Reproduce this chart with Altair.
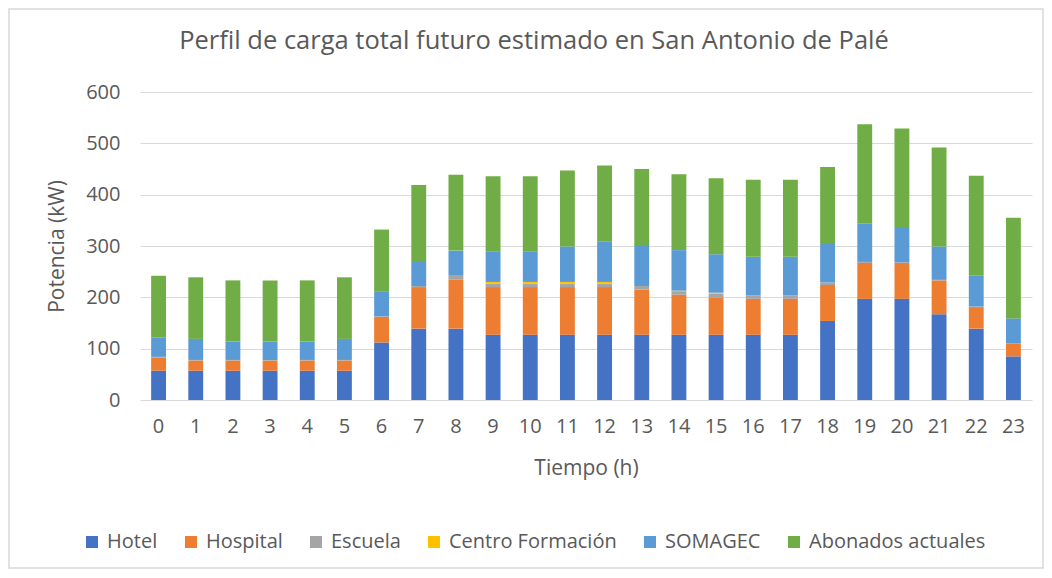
import altair as alt
import pandas as pd

hours = list(range(24))
series = ["Hotel", "Hospital", "Escuela", "Centro Formación", "SOMAGEC", "Abonados actuales"]
colors = ["#4472C4", "#ED7D31", "#A5A5A5", "#FFC000", "#5B9BD5", "#70AD47"]

hotel = [57, 57, 57, 57, 57, 57, 112, 139, 139, 127, 127, 127, 127, 127, 127, 127, 127, 127, 154, 197, 197, 167, 139, 85]
hospital = [26, 20, 20, 20, 20, 20, 50, 81, 96, 93, 93, 93, 93, 88, 78, 73, 70, 70, 70, 70, 70, 66, 42, 25]
escuela = [1, 1, 1, 1, 1, 1, 1, 2, 7, 7, 7, 7, 7, 7, 7, 7, 7, 7, 5, 2, 1, 1, 1, 0]
centro = [0, 0, 0, 0, 0, 0, 0, 0, 0, 3, 3, 3, 3, 0, 1, 2, 0, 0, 0, 0, 0, 0, 0, 0]
somagec = [38, 41, 36, 36, 36, 41, 49, 49, 49, 59, 59, 69, 79, 80, 79, 75, 75, 75, 75, 75, 69, 65, 60, 49]
abonados = [120, 120, 119, 119, 119, 120, 120, 148, 148, 147, 147, 148, 148, 148, 148, 148, 150, 150, 150, 193, 192, 193, 195, 196]

values = [hotel, hospital, escuela, centro, somagec, abonados]
rows = []
for si, (name, vals) in enumerate(zip(series, values)):
    for h, v in zip(hours, vals):
        rows.append({"hora": str(h), "serie": name, "orden": si, "potencia": v})
df = pd.DataFrame(rows)

FONT = "Open Sans"
GRAY = "#595959"
W, H = 892, 308

bars = alt.Chart(df).mark_bar().encode(
    x=alt.X("hora:N", sort=[str(h) for h in hours],
            scale=alt.Scale(paddingInner=0.6, paddingOuter=0.3),
            axis=alt.Axis(title="Tiempo (h)", labelAngle=0, ticks=False, domain=False,
                          labelPadding=16, titlePadding=21, labelFontSize=20,
                          titleFontSize=21, titleFontWeight="normal")),
    y=alt.Y("potencia:Q", stack="zero",
            scale=alt.Scale(domain=[0, 600], nice=False),
            axis=alt.Axis(title="Potencia (kW)", values=[0, 100, 200, 300, 400, 500, 600],
                          ticks=False, domain=False, labelPadding=20, labelFontSize=20,
                          titleFontSize=21, titleFontWeight="normal",
                          titleX=-83, titleY=154, titleAngle=270, titleAlign="center",
                          titleBaseline="middle", gridColor="#d9d9d9", gridWidth=1.2)),
    color=alt.Color("serie:N", sort=series,
                    scale=alt.Scale(domain=series, range=colors),
                    legend=alt.Legend(title=None, orient="none", direction="horizontal",
                                      legendX=-58, legendY=440, symbolType="square",
                                      symbolSize=144, symbolStrokeWidth=0, labelLimit=400,
                                      labelFontSize=20, labelOffset=5, columnPadding=23)),
    order=alt.Order("orden:Q", sort="ascending"),
)

border = alt.Chart(pd.DataFrame({"a": [0]})).mark_rect(
    fill=None, stroke="#d9d9d9", strokeWidth=1.5, clip=False
).encode(
    x=alt.value(-131), x2=alt.value(W + 11),
    y=alt.value(-83), y2=alt.value(H + 168),
)

chart = alt.layer(border, bars).properties(
    width=W, height=H,
    title=alt.Title("Perfil de carga total futuro estimado en San Antonio de Palé",
                    fontSize=25.5, font=FONT, color=GRAY, fontWeight="normal",
                    anchor="middle", dx=-52, offset=-66, baseline="alphabetic"),
    autosize=alt.AutoSizeParams(type="none"),
    padding={"left": 132, "top": 84, "right": 12, "bottom": 170},
).configure(
    font=FONT,
).configure_axis(
    labelColor=GRAY, titleColor=GRAY, labelFont=FONT, titleFont=FONT,
).configure_legend(
    labelColor=GRAY, labelFont=FONT,
).configure_view(
    stroke=None,
)

chart.save("out.html", embed_options={"renderer": "svg", "actions": False})
